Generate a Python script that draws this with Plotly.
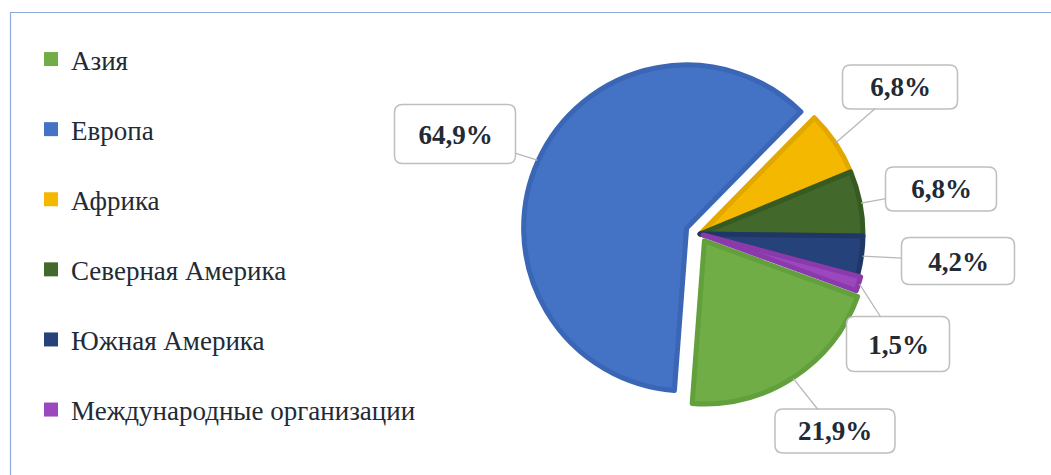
import math
import plotly.graph_objects as go

# ---------------- data ----------------
categories = ["Азия", "Европа", "Африка", "Северная Америка",
              "Южная Америка", "Международные организации"]
values = [21.9, 64.9, 6.8, 6.8, 4.2, 1.5]
value_labels = ["21,9%", "64,9%", "6,8%", "6,8%", "4,2%", "1,5%"]

# ---------------- style ----------------
colors = ["#70ad47", "#4472c4", "#f5b800", "#43682b", "#25427a", "#9b47bd"]
edge_colors = ["#62a03c", "#3a66b5", "#e2a800", "#375a22", "#1e3766", "#8a3aab"]
pulls = [0.05, 0.09, 0.0, 0.0, 0.0, 0.02]
rotation = 110

W, H = 1051, 475
CX, CY, R = 700, 234, 163           # pie centre / radius in px
max_pull = max(pulls)
half = R * (1 + max_pull)
dom_x = [(CX - half) / W, (CX + half) / W]
dom_y = [1 - (CY + half) / H, 1 - (CY - half) / H]

# label boxes (centre x, centre y, width, height) in px, same order as categories
boxes = [(835, 431, 120, 44), (455, 134, 121, 59), (900, 87, 115, 44),
         (941, 189, 111, 44), (958, 261, 113, 47), (898, 344, 103, 55)]

text_color = "#222a36"
serif = "Liberation Serif, Times New Roman, serif"

fig = go.Figure()
fig.add_trace(go.Pie(
    labels=categories, values=values, sort=False, direction="clockwise",
    rotation=rotation, pull=pulls, textinfo="none", showlegend=False,
    customdata=value_labels, hovertemplate="%{label}: %{customdata}<extra></extra>",
    marker=dict(colors=colors, line=dict(color=edge_colors, width=5)),
    domain=dict(x=dom_x, y=dom_y),
))

# legend entries
for cat, col in zip(categories, colors):
    fig.add_trace(go.Scatter(
        x=[None], y=[None], mode="markers", name=cat, legendgroup=cat,
        marker=dict(symbol="square", size=14, color=col), hoverinfo="skip"))

# callout labels
total = sum(values)
shapes = []
annotations = []
cum = 0.0
for i, v in enumerate(values):
    mid = math.radians(rotation + (cum + v / 2) / total * 360)
    cum += v
    rr = R * (1 + pulls[i]) + 1
    tx = CX + rr * math.sin(mid)
    ty = CY - rr * math.cos(mid)
    bx, by, bw, bh = boxes[i]
    annotations.append(dict(
        x=tx / W, y=1 - ty / H, xref="paper", yref="paper",
        text="<b>%s</b>" % value_labels[i], showarrow=True, arrowhead=0,
        arrowwidth=1.3, arrowcolor="#b8b8b8", standoff=0,
        ax=bx - tx, ay=by - ty, width=bw - 2, height=bh - 2, borderpad=0,
        bgcolor="rgba(0,0,0,0)", font=dict(family=serif, size=27, color=text_color)))
    # rounded rectangle
    x0, x1 = bx - bw / 2, bx + bw / 2
    y0, y1 = by - bh / 2, by + bh / 2
    rad = 8
    def P(px, py):
        return "%.5f,%.5f" % (px / W, 1 - py / H)
    path = ("M " + P(x0 + rad, y0) + " L " + P(x1 - rad, y0) +
            " Q " + P(x1, y0) + " " + P(x1, y0 + rad) +
            " L " + P(x1, y1 - rad) + " Q " + P(x1, y1) + " " + P(x1 - rad, y1) +
            " L " + P(x0 + rad, y1) + " Q " + P(x0, y1) + " " + P(x0, y1 - rad) +
            " L " + P(x0, y0 + rad) + " Q " + P(x0, y0) + " " + P(x0 + rad, y0) + " Z")
    shapes.append(dict(type="path", path=path, xref="paper", yref="paper",
                       line=dict(color="#bfbfbf", width=1.5), fillcolor="white",
                       layer="above"))

# outer chart border
shapes.insert(0, dict(type="rect", xref="paper", yref="paper",
                      x0=10.5 / W, x1=1.02, y0=-0.02, y1=1 - 12.5 / H,
                      line=dict(color="#8eaadc", width=1.2), fillcolor="rgba(0,0,0,0)",
                      layer="below"))

fig.update_layout(
    width=W, height=H, margin=dict(l=0, r=0, t=0, b=0),
    paper_bgcolor="white", plot_bgcolor="white",
    xaxis=dict(visible=False), yaxis=dict(visible=False),
    shapes=shapes, annotations=annotations,
    legend=dict(x=31 / W, y=1 - 35 / H, xanchor="left", yanchor="top",
                font=dict(family=serif, size=27, color=text_color),
                tracegroupgap=32, bgcolor="rgba(0,0,0,0)", itemclick=False,
                itemdoubleclick=False),
)

fig.write_html("out.html", config={"displayModeBar": False},
               post_script="document.body.style.margin='0';"
                           "document.body.style.overflow='hidden';")
